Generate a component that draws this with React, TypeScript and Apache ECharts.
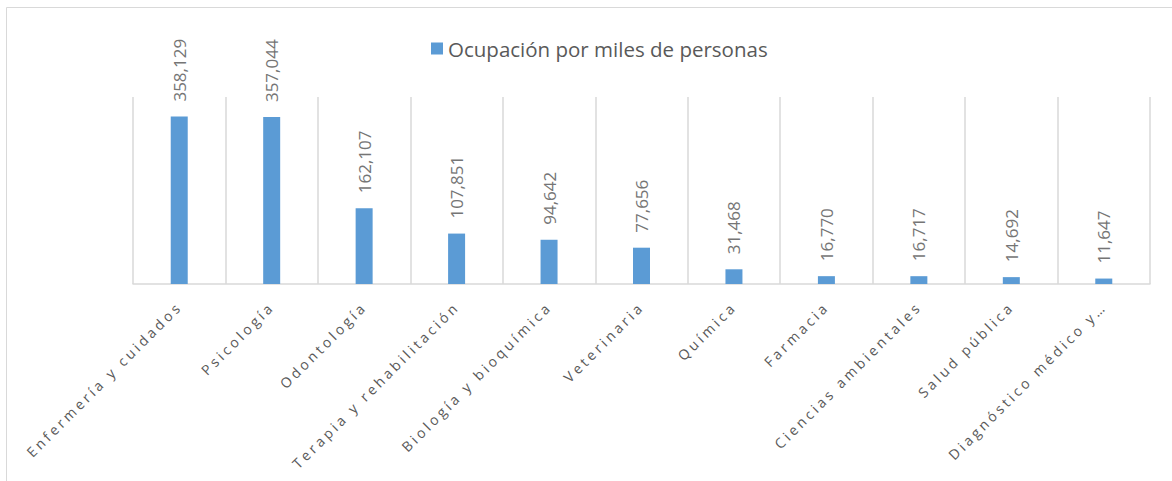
import React, { useEffect, useRef } from "react";
import * as echarts from "echarts";

const categories = [
  "Enfermería y cuidados",
  "Psicología",
  "Odontología",
  "Terapia y rehabilitación",
  "Biología y bioquímica",
  "Veterinaria",
  "Química",
  "Farmacia",
  "Ciencias ambientales",
  "Salud pública",
  "Diagnóstico médico y…",
];
const values = [358129, 357044, 162107, 107851, 94642, 77656, 31468, 16770, 16717, 14692, 11647];
const seriesName = "Ocupación por miles de personas";

const FONT = "'Open Sans', 'Noto Sans', sans-serif";

export default function App() {
  const ref = useRef<HTMLDivElement>(null);
  useEffect(() => {
    if (!ref.current) return;
    const chart = echarts.init(ref.current, undefined, { renderer: "svg" });
    const applySpacing = () => {
      const set = new Set(categories);
      ref.current?.querySelectorAll("text").forEach((t) => {
        if (set.has((t.textContent || "").trim())) {
          (t as SVGTextElement).style.letterSpacing = "3.2px";
        }
      });
    };
    chart.setOption({
      animation: false,
      backgroundColor: "#ffffff",
      graphic: [
        {
          type: "rect",
          shape: { x: 6.5, y: 7.5, width: 1200, height: 500 },
          style: { fill: "none", stroke: "#d9d9d9", lineWidth: 1 },
          silent: true,
        },
      ],
      legend: {
        left: 426,
        top: 33,
        itemWidth: 12,
        itemHeight: 12,
        itemGap: 6,
        icon: "rect",
        textStyle: { color: "#595959", fontSize: 20.5, fontFamily: FONT },
        data: [seriesName],
      },
      grid: { left: 133, right: 22, top: 97, bottom: 197, containLabel: false },
      xAxis: {
        type: "category",
        data: categories,
        boundaryGap: true,
        axisLine: { show: true, lineStyle: { color: "#d9d9d9", width: 1.5 } },
        axisTick: { show: false },
        splitLine: { show: true, lineStyle: { color: "#d9d9d9", width: 1.5 } },
        axisLabel: {
          interval: 0,
          rotate: 45,
          margin: 20,
          color: "#595959",
          fontSize: 14,
          fontFamily: FONT,
        },
      },
      yAxis: {
        type: "value",
        min: 0,
        max: 400000,
        show: false,
        splitLine: { show: false },
      },
      series: [
        {
          name: seriesName,
          type: "bar",
          data: values,
          barWidth: 17,
          itemStyle: { color: "#5b9bd5" },
          label: {
            show: true,
            position: "top",
            rotate: 90,
            align: "left",
            verticalAlign: "middle",
            distance: 15,
            color: "#757575",
            fontSize: 17,
            fontFamily: FONT,
            formatter: (p: any) => Number(p.value).toLocaleString("en-US"),
          },
        },
      ],
    });
    applySpacing();
    chart.on("finished", applySpacing);
    return () => chart.dispose();
  }, []);
  return (
    <div
      ref={ref}
      style={{ position: "fixed", left: 0, top: 0, width: 1172, height: 481, background: "#fff" }}
    />
  );
}
